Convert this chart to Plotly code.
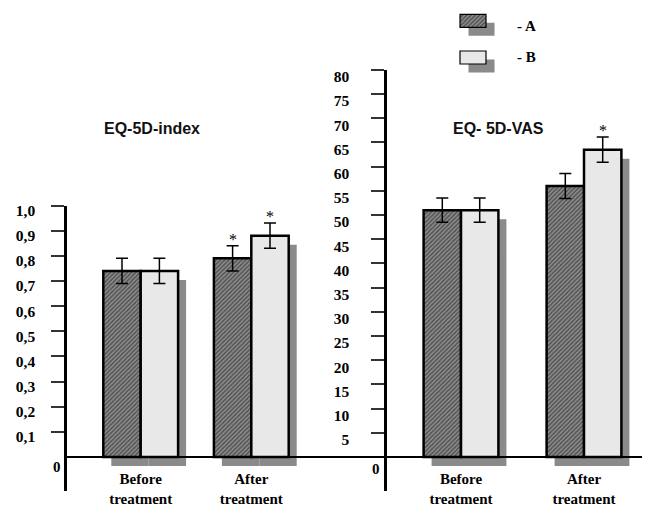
import plotly.graph_objects as go

W, H = 652, 509
OFF = 8  # page body margin: the figure is drawn 8 px in from the window corner

# ---------------- data ----------------
categories = ["Before<br>treatment", "After<br>treatment"]
series_names = ["A", "B"]

index_A = [0.74, 0.79]
index_B = [0.74, 0.88]
index_err_A = [0.05, 0.05]
index_err_B = [0.05, 0.05]
index_star_A = [False, True]
index_star_B = [False, True]

vas_A = [51.0, 56.0]
vas_B = [51.0, 63.5]
vas_err_A = [2.5, 2.6]
vas_err_B = [2.5, 2.6]
vas_star_A = [False, False]
vas_star_B = [False, True]

index_tickvals = [0.1, 0.2, 0.3, 0.4, 0.5, 0.6, 0.7, 0.8, 0.9, 1.0]
index_ticktext = ["0,1", "0,2", "0,3", "0,4", "0,5", "0,6", "0,7", "0,8", "0,9", "1,0"]
vas_tickvals = [5, 10, 15, 20, 25, 30, 35, 40, 45, 50, 55, 60, 65, 70, 75, 80]
vas_ticktext = [str(v) for v in vas_tickvals]

# ---------------- style ----------------
SERIF = "Liberation Serif"
SANS = "Liberation Sans"
HATCH_FG = "#141414"
HATCH_BG = "#8f8f8f"
LIGHT = "#e8e8e8"
SHADOW = "#8a8a8a"
DX, DY = 8, 9  # shadow offset in px


def fx(px):
    return (px - OFF) / W


def fy(py):
    return 1 - (py - OFF) / H


fig = go.Figure()
layout = dict(
    width=W, height=H, margin=dict(l=0, r=0, t=0, b=0, autoexpand=False),
    paper_bgcolor="white", plot_bgcolor="rgba(0,0,0,0)",
    showlegend=False, annotations=[],
)

panels = [
    dict(sid=1, mid=3, A=index_A, B=index_B, eA=index_err_A, eB=index_err_B,
         sA=index_star_A, sB=index_star_B, tv=index_tickvals, tt=index_ticktext,
         x0=67, x1=387, top=205.5, bot=491, zero=457, unit=251.5,
         c0=140.7, step=110.6, bw=37.4, title="EQ-5D-index", tx=151.5,
         zl=(57, 467), standoff=13, shift=5),
    dict(sid=2, mid=4, A=vas_A, B=vas_B, eA=vas_err_A, eB=vas_err_B,
         sA=vas_star_A, sB=vas_star_B, tv=vas_tickvals, tt=vas_ticktext,
         x0=387, x1=642, top=69.8, bot=491, zero=457, unit=387.2 / 80,
         c0=461, step=123, bw=37.4, title="EQ- 5D-VAS", tx=498,
         zl=(376, 469), standoff=19, shift=7),
]

for p in panels:
    xr = [(p["x0"] - p["c0"]) / p["step"], (p["x1"] - p["c0"]) / p["step"]]
    yr = [(p["zero"] - p["bot"]) / p["unit"], (p["zero"] - p["top"]) / p["unit"]]
    w = p["bw"] / p["step"]
    xs = list(range(len(categories)))
    sx, sy = f"x{p['sid']}", f"y{p['sid']}"
    mx, my = f"x{p['mid']}", f"y{p['mid']}"

    # shadow bars (shifted copy of the same axes)
    for vals, off in ((p["A"], -w), (p["B"], 0.0)):
        fig.add_trace(go.Bar(x=xs, y=vals, width=w, offset=off, xaxis=sx, yaxis=sy,
                             marker=dict(color=SHADOW, line=dict(width=0)),
                             hoverinfo="skip"))
    layout[f"xaxis{p['sid']}"] = dict(domain=[fx(p["x0"] + DX), fx(p["x1"] + DX)],
                                      range=xr, visible=False, anchor=sy)
    layout[f"yaxis{p['sid']}"] = dict(domain=[fy(p["bot"] + DY), fy(p["top"] + DY)],
                                      range=yr, visible=False, anchor=sx)

    # main bars
    fig.add_trace(go.Bar(
        x=xs, y=p["A"], width=w, offset=-w, xaxis=mx, yaxis=my, name=series_names[0],
        marker=dict(color=HATCH_BG, line=dict(color="black", width=2.5),
                    pattern=dict(shape="/", fgcolor=HATCH_FG, bgcolor=HATCH_BG,
                                 size=3, solidity=0.5)),
        error_y=dict(type="data", array=p["eA"], color="black", thickness=1.5, width=6),
    ))
    fig.add_trace(go.Bar(
        x=xs, y=p["B"], width=w, offset=0.0, xaxis=mx, yaxis=my, name=series_names[1],
        marker=dict(color=LIGHT, line=dict(color="black", width=2.5)),
        error_y=dict(type="data", array=p["eB"], color="black", thickness=1.5, width=6),
    ))
    layout[f"xaxis{p['mid']}"] = dict(
        domain=[fx(p["x0"]), fx(p["x1"])], range=xr, anchor="free",
        position=fy(p["zero"]), showline=False, showgrid=False, zeroline=False,
        ticks="", tickvals=xs, ticktext=categories, ticklabelstandoff=11,
        tickfont=dict(family=SERIF, size=15, color="black", weight="bold"),
    )
    layout[f"yaxis{p['mid']}"] = dict(
        domain=[fy(p["bot"]), fy(p["top"])], range=yr, anchor=mx,
        showline=True, linewidth=2.5, linecolor="black", showgrid=False,
        zeroline=True, zerolinewidth=2, zerolinecolor="black",
        ticks="outside", ticklen=13, tickwidth=1.5, tickcolor="#333",
        tickvals=p["tv"], ticktext=p["tt"], ticklabelstandoff=p["standoff"],
        ticklabelshift=p["shift"],
        tickfont=dict(family=SERIF, size=15.5, color="black", weight="bold"),
    )

    # significance asterisks
    for i in xs:
        for vals, errs, stars, cx in ((p["A"], p["eA"], p["sA"], i - w / 2),
                                      (p["B"], p["eB"], p["sB"], i + w / 2)):
            if stars[i]:
                layout["annotations"].append(dict(
                    x=cx, y=vals[i] + errs[i], xref=mx, yref=my, text="*",
                    showarrow=False, yanchor="bottom", yshift=-4,
                    font=dict(family=SERIF, size=16, color="black")))

    # panel title
    layout["annotations"].append(dict(
        x=fx(p["tx"]), y=fy(129), xref="paper", yref="paper", text=p["title"],
        showarrow=False, xanchor="center", yanchor="middle",
        font=dict(family=SANS, size=16, color="#111", weight="bold")))
    # zero label
    layout["annotations"].append(dict(
        x=fx(p["zl"][0]), y=fy(p["zl"][1]), xref="paper", yref="paper", text="0",
        showarrow=False, xanchor="center", yanchor="middle",
        font=dict(family=SERIF, size=15, color="black", weight="bold")))

# ---------------- legend (custom swatches with drop shadow) ----------------
LX0, LX1, LT, LB = 455, 491, 10, 70
lunit = 36.7
lxr = [-(460 - LX0) / 26, 1 + (LX1 - 486) / 26]
lyr = [-(LB - 57.5) / lunit, -(LB - 57.5) / lunit + (LB - LT) / lunit]
lw = 13 / lunit
legend_pos = [1, 0]
fig.add_trace(go.Bar(x=[1, 1], y=legend_pos, orientation="h", width=lw,
                     xaxis="x5", yaxis="y5", hoverinfo="skip",
                     marker=dict(color=SHADOW, line=dict(width=0))))
layout["xaxis5"] = dict(domain=[fx(LX0 + 8.5), fx(LX1 + 8.5)], range=lxr, visible=False, anchor="y5")
layout["yaxis5"] = dict(domain=[fy(LB + 8.5), fy(LT + 8.5)], range=lyr, visible=False, anchor="x5")
fig.add_trace(go.Bar(x=[1], y=[legend_pos[0]], orientation="h", width=lw,
                     xaxis="x6", yaxis="y6", hoverinfo="skip",
                     marker=dict(color=HATCH_BG, line=dict(color="black", width=1.2),
                                 pattern=dict(shape="/", fgcolor=HATCH_FG, bgcolor=HATCH_BG,
                                              size=3, solidity=0.5))))
fig.add_trace(go.Bar(x=[1], y=[legend_pos[1]], orientation="h", width=lw,
                     xaxis="x6", yaxis="y6", hoverinfo="skip",
                     marker=dict(color=LIGHT, line=dict(color="black", width=1.2))))
layout["xaxis6"] = dict(domain=[fx(LX0), fx(LX1)], range=lxr, visible=False, anchor="y6")
layout["yaxis6"] = dict(domain=[fy(LB), fy(LT)], range=lyr, visible=False, anchor="x6")
for name, ypx in zip(series_names, (25.5, 57)):
    layout["annotations"].append(dict(
        x=fx(515), y=fy(ypx), xref="paper", yref="paper", text="- " + name,
        showarrow=False, xanchor="left", yanchor="middle",
        font=dict(family=SERIF, size=15, color="black", weight="bold")))

layout["barmode"] = "overlay"
fig.update_layout(**layout)
fig.write_html("out.html")
